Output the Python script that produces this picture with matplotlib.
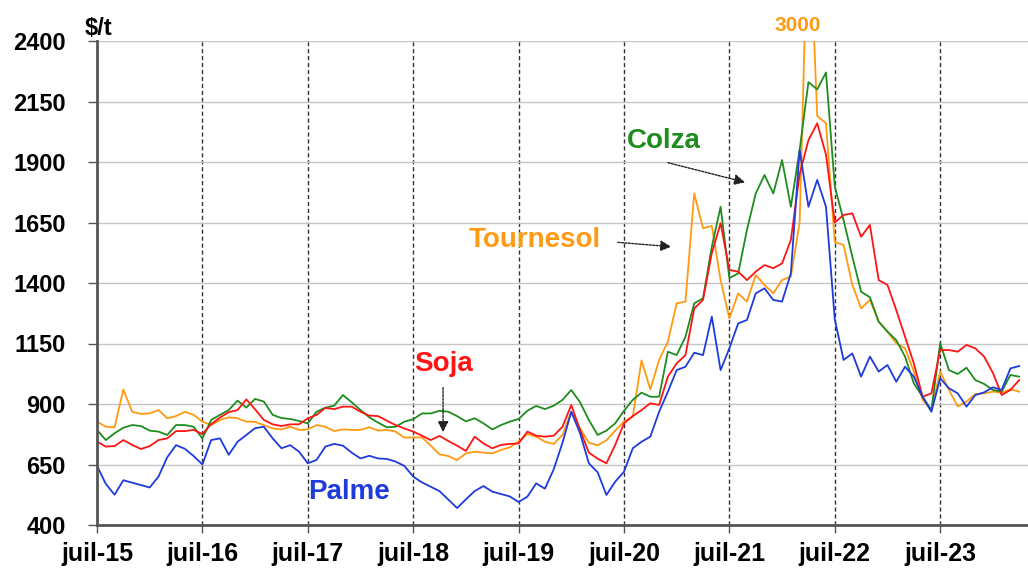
import matplotlib
matplotlib.use("Agg")
import matplotlib.pyplot as plt
import numpy as np

# monthly prices, $/t, from juil-15 (index 0) to avr-24
year_labels = ["juil-15", "juil-16", "juil-17", "juil-18", "juil-19",
               "juil-20", "juil-21", "juil-22", "juil-23"]

palme = [645, 570, 525, 585, 575, 565, 555, 600, 680, 730, 715, 685,
         650, 751, 758, 690, 744, 772, 800, 806, 758, 717, 730, 703,
         655, 669, 724, 735, 728, 699, 675, 686, 675, 673, 662, 644,
         600, 576, 558, 540, 505, 470, 506, 540, 561, 538, 528, 518,
         495, 517, 572, 550, 630, 740, 868, 779, 655, 618, 524, 579,
         620, 717, 744, 765, 868, 951, 1040, 1054, 1112, 1102, 1261, 1040,
         1130, 1233, 1247, 1357, 1378, 1330, 1323, 1440, 1950, 1715, 1826, 1715,
         1250, 1082, 1109, 1013, 1096, 1034, 1061, 992, 1054, 1013, 930, 868,
         1006, 965, 944, 889, 937, 948, 969, 958, 1047, 1057]

soja = [745, 724, 726, 751, 731, 714, 726, 751, 758, 788, 788, 793,
        776, 817, 844, 866, 875, 919, 878, 834, 816, 809, 816, 816,
        841, 855, 884, 879, 889, 889, 868, 852, 850, 831, 813, 799,
        786, 769, 751, 768, 747, 728, 706, 765, 737, 717, 731, 735,
        737, 786, 769, 765, 769, 806, 896, 793, 699, 674, 655, 731,
        820, 850, 875, 903, 896, 1013, 1068, 1102, 1295, 1330, 1523, 1647,
        1454, 1447, 1412, 1447, 1474, 1461, 1481, 1578, 1850, 1990, 2060, 1930,
        1650, 1681, 1688, 1591, 1640, 1412, 1392, 1288, 1178, 1068, 930, 944,
        1123, 1123, 1116, 1144, 1130, 1096, 1029, 937, 958, 999]

tournesol = [827, 806, 804, 960, 868, 859, 861, 875, 841, 850, 868, 855,
             827, 813, 834, 845, 841, 827, 826, 813, 799, 795, 806, 793,
             795, 813, 806, 788, 795, 793, 793, 804, 790, 793, 786, 761,
             762, 762, 728, 692, 685, 668, 696, 703, 699, 696, 710, 721,
             745, 776, 765, 744, 735, 772, 868, 799, 740, 729, 750, 790,
             827, 848, 1080, 960, 1082, 1158, 1316, 1323, 1770, 1626, 1636, 1412,
             1254, 1357, 1323, 1433, 1392, 1357, 1412, 1426, 1650, 3000, 2090, 2060,
             1570, 1557, 1392, 1295, 1330, 1240, 1199, 1151, 1130, 1034, 917, 875,
             1034, 958, 890, 910, 941, 944, 951, 947, 961, 951]

colza = [793, 751, 779, 802, 813, 809, 790, 786, 772, 813, 813, 806,
         758, 834, 855, 875, 914, 885, 921, 910, 855, 842, 838, 830,
         820, 868, 885, 893, 937, 907, 875, 845, 823, 804, 806, 827,
         837, 861, 861, 872, 868, 850, 828, 841, 820, 795, 813, 827,
         838, 872, 892, 879, 893, 917, 958, 907, 834, 772, 790, 820,
         872, 917, 947, 930, 930, 1116, 1102, 1178, 1316, 1337, 1550, 1715,
         1420, 1440, 1619, 1770, 1846, 1770, 1908, 1715, 1950, 2230, 2200, 2270,
         1800, 1660, 1509, 1364, 1341, 1240, 1199, 1164, 1096, 985, 930, 875,
         1151, 1040, 1024, 1050, 999, 983, 958, 951, 1020, 1013]

months = np.arange(len(palme))

plt.rcParams["font.family"] = ["Liberation Sans", "DejaVu Sans"]
plt.rcParams["font.weight"] = "bold"

c_palme = "#1f3bdb"
c_soja = "#ff1414"
c_tour = "#ff9a12"
c_colza = "#1e8c1e"

fig = plt.figure(figsize=(10.28, 5.68), dpi=100)
ax = fig.add_axes([97 / 1028, 1 - 525 / 568, 1 - 97 / 1028, 484 / 568])

ax.plot(months, tournesol, color=c_tour, lw=1.3)
ax.plot(months, colza, color=c_colza, lw=1.3)
ax.plot(months, soja, color=c_soja, lw=1.3)
ax.plot(months, palme, color=c_palme, lw=1.3)

ax.set_xlim(0, 106)
ax.set_ylim(400, 2400)
ax.set_yticks(np.arange(400, 2401, 250))
xt = np.arange(0, 12 * len(year_labels), 12)
ax.set_xticks(xt)
ax.set_xticklabels(year_labels)

ax.yaxis.grid(True, color="#c4c4c4", lw=1)
ax.set_axisbelow(True)
for x in xt[1:]:
    ax.axvline(x, color="#333333", ls=(0, (3, 2)), lw=1, zorder=0.5)

for s in ["top", "right"]:
    ax.spines[s].set_visible(False)
for s in ["left", "bottom"]:
    ax.spines[s].set_color("#555555")
    ax.spines[s].set_linewidth(2)

ax.tick_params(axis="y", labelsize=17, length=6.5, width=1, color="#555555", pad=16)
ax.tick_params(axis="x", labelsize=18, length=6, width=1, color="#555555", pad=6)

ax.text(0.2, 2450, "$/t", fontsize=17, ha="center", va="center")
ax.text(79.8, 2462, "3000", fontsize=15, color=c_tour, ha="center", va="center")

ax.text(64.5, 1987, "Colza", fontsize=20, color=c_colza, ha="center", va="center")
ax.text(49.9, 1578, "Tournesol", fontsize=20, color=c_tour, ha="center", va="center")
ax.text(39.4, 1065, "Soja", fontsize=20, color=c_soja, ha="center", va="center")
ax.text(28.7, 536, "Palme", fontsize=20, color=c_palme, ha="center", va="center")

arrow = dict(arrowstyle="-|>", color="#222222", lw=1, ls=(0, (1.5, 1)), mutation_scale=16)
ax.annotate("", xy=(74.1, 1813), xytext=(64.7, 1900), arrowprops=arrow)
ax.annotate("", xy=(65.7, 1549), xytext=(59.0, 1569), arrowprops=arrow)
ax.annotate("", xy=(39.4, 772), xytext=(39.4, 979), arrowprops=arrow)

fig.savefig("out.png", dpi=100)
